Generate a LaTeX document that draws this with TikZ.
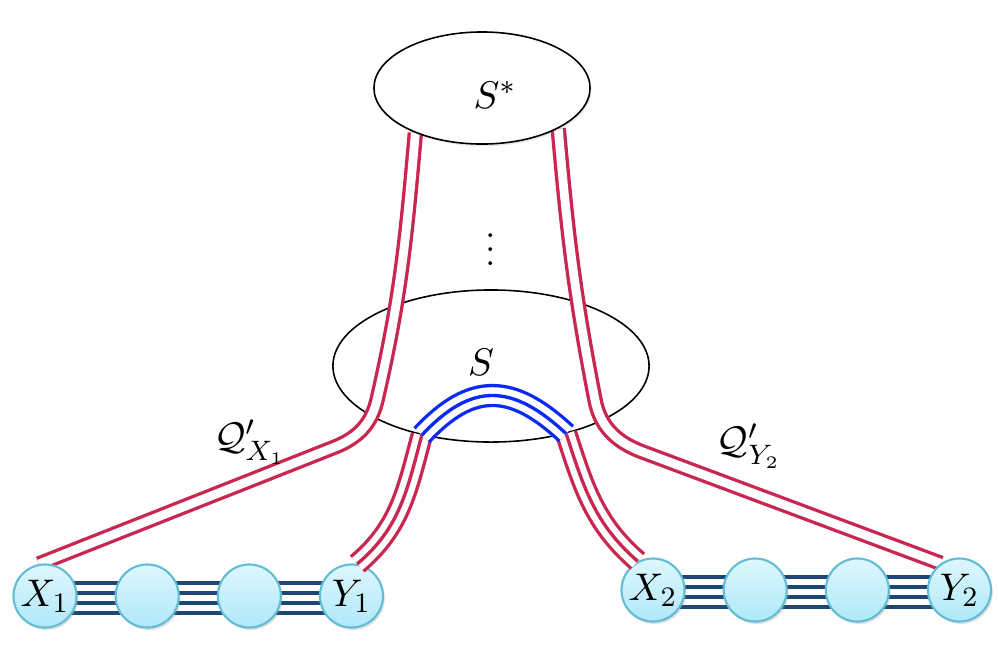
\documentclass[tikz,border=0pt]{standalone}
\usepackage{amsmath,amssymb}
\usepackage{tikz}
\usetikzlibrary{positioning, shapes.geometric, backgrounds, shadows, calc}

\definecolor{qred}{RGB}{201,39,79}
\definecolor{qblue}{RGB}{12,42,246}
\definecolor{chainblue}{RGB}{30,72,115}
\definecolor{vtxtop}{RGB}{222,247,253}
\definecolor{vtxbot}{RGB}{176,232,248}
\definecolor{vtxedge}{RGB}{98,188,213}

\begin{document}
\begin{tikzpicture}[
        x=0.01cm, y=0.01cm,
        font=\fontsize{11}{13}\selectfont,
        node distance=0.37cm,
        vtx/.style={circle, draw=vtxedge, line width=0.6pt, top color=vtxtop, bottom color=vtxbot, minimum size=0.63cm, inner sep=0pt,
            drop shadow={shadow xshift=0.5pt, shadow yshift=-0.7pt, opacity=0.25}},
        sepset/.style={ellipse, draw=black, line width=0.45pt, inner sep=0pt},
        chain/.style={draw=chainblue, line width=1.3pt},
        pathpair/.style={draw=qred, line width=4.4pt, postaction={draw=white, line width=2.5pt}},
        pathtriple/.style={draw=qred, line width=6.4pt, postaction={draw=white, line width=4.5pt}, postaction={draw=qred, line width=0.95pt}},
        arctriple/.style={draw=qblue, line width=6.6pt, postaction={draw=white, line width=4.7pt}, postaction={draw=qblue, line width=0.95pt}},
        lbl/.style={inner sep=0pt},
    ]
    \useasboundingbox (0,0) rectangle (999,-663);

    % === LEFT CHAIN ===
    \node[vtx] (x1) at (45,-596) {$X_1$};
    \node[vtx, right=of x1] (a1) {};
    \node[vtx, right=of a1] (a2) {};
    \node[vtx, right=of a2] (y1) {$Y_1$};

    % === RIGHT CHAIN ===
    \node[vtx] (x2) at (653,-590) {$X_2$};
    \node[vtx, right=of x2] (b1) {};
    \node[vtx, right=of b1] (b2) {};
    \node[vtx, right=of b2] (y2) {$Y_2$};

    % === SEPARATORS ===
    \node[sepset, fill=white, minimum width=2.16cm, minimum height=1.12cm,
        drop shadow={shadow xshift=0.4pt, shadow yshift=-0.6pt, opacity=0.2}] (sstar) at (482,-88) {};

    \begin{scope}[on background layer]
        \node[sepset, minimum width=3.16cm, minimum height=1.52cm] (s) at (491,-366) {};

        % linkages along the chains
        \foreach \o in {13,3,-7,-17} {
            \draw[chain] ($(x1)+(0,\o)$) -- ($(y1)+(0,\o)$);
            \draw[chain] ($(x2)+(0,\o)$) -- ($(y2)+(0,\o)$);
        }

        % Q' paths from S*
        \draw[pathpair] (sstar.-146) to[out=-95, in=77] (377,-400) to[out=-103, in=22] (335,-447) -- (x1.101);
        \draw[pathpair] (sstar.-28) to[out=-85, in=101] (595,-400) to[out=-79, in=158] (640,-451) -- (y2.125);
    \end{scope}

    % paths through S
    \draw[pathtriple] (s.-135) to[out=-105, in=40] (y1.80);
    \draw[pathtriple] (s.-42) to[out=-72, in=139] (x2.118);
    \draw[arctriple] (s.-135) to[out=47, in=137, looseness=1.3] (s.-42);

    % === LABELS ===
    \node[lbl] (sstarlbl) at (495,-95) {$S^*$};
    \node[lbl] (slbl) at (481,-362) {$S$};
    \node[lbl] (dots) at (491,-239) {$\vdots$};
    \node[lbl] (qx) at (250,-442) {$\mathcal{Q}'_{X_1}$};
    \node[lbl] (qy) at (749,-446) {$\mathcal{Q}'_{Y_2}$};

\end{tikzpicture}
\end{document}
